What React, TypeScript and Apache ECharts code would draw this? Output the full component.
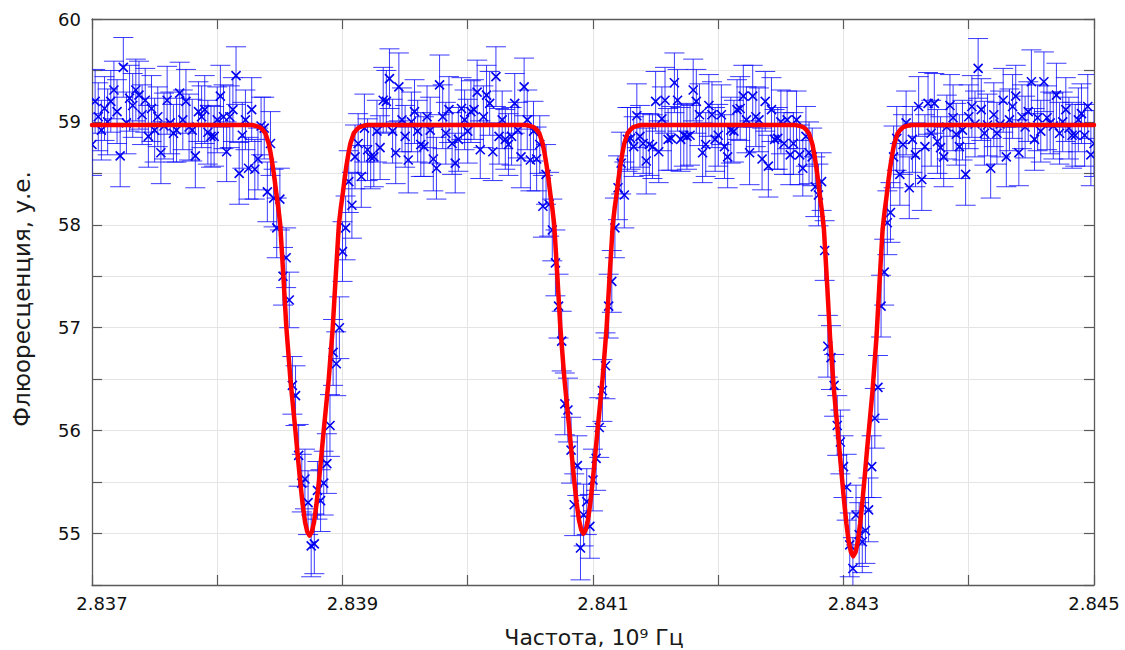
import React, { useEffect, useRef } from "react";
import * as echarts from "echarts";

// Frequency sampling of the measured points (GHz)
const X_START = 2.837;
const X_STEP = 0.000025;

// Measured fluorescence (a.u.), one value per sample
const signal = [
  58.78,59.20,59.05,58.92,59.13,59.00,59.20,59.31,59.10,58.67,
  59.53,58.99,59.23,59.16,59.31,59.26,59.07,59.21,58.86,59.13,
  58.92,59.05,58.70,58.96,59.21,58.99,58.89,58.92,59.28,59.02,
  59.20,58.95,58.92,58.67,59.10,59.05,59.12,58.90,58.86,58.86,
  59.02,59.25,59.05,58.71,59.05,59.12,59.45,58.50,58.87,59.02,
  58.55,59.12,58.54,58.64,58.96,58.94,58.32,58.79,58.26,57.97,
  58.25,57.50,57.68,57.27,56.44,56.34,55.76,55.49,55.53,55.30,
  54.88,54.90,55.42,55.32,55.49,55.68,56.05,56.76,56.65,57.00,
  57.74,57.97,58.42,58.19,58.66,58.79,58.47,58.94,58.73,58.66,
  58.66,58.91,58.75,59.21,59.20,59.42,58.91,58.70,59.34,59.02,
  58.86,58.63,59.00,59.10,58.91,58.78,58.76,59.05,58.92,58.64,
  58.55,59.36,59.05,58.89,59.12,58.79,58.60,58.83,59.13,59.02,
  58.91,59.10,59.12,59.29,58.73,59.05,59.26,59.18,58.71,59.44,
  58.86,59.02,58.83,58.78,58.86,59.18,58.92,58.66,59.34,59.02,
  58.63,58.91,58.64,58.78,58.18,58.49,58.20,57.95,57.63,57.21,
  56.87,56.26,56.20,55.81,55.28,55.66,54.86,55.18,55.31,55.07,
  55.52,55.73,56.03,56.39,56.63,57.21,57.45,57.97,58.36,58.60,
  58.29,58.83,58.84,58.76,59.06,58.86,58.79,58.62,58.78,58.76,
  59.20,58.71,59.03,59.21,58.83,58.84,59.38,59.21,58.83,58.87,
  58.86,58.87,59.31,59.20,59.07,58.70,58.78,59.16,59.07,58.83,
  58.87,59.07,58.76,58.66,58.92,58.91,59.12,59.13,59.25,59.02,
  58.70,59.25,59.05,59.02,58.64,59.20,58.57,59.12,58.83,58.84,
  59.00,58.79,59.02,58.68,58.79,59.02,58.68,58.55,58.86,58.70,
  58.66,58.37,58.29,58.42,57.75,56.82,56.71,56.44,56.05,55.89,
  55.65,55.45,54.89,54.66,55.18,54.99,54.92,55.03,55.23,55.65,
  56.12,56.42,57.21,57.54,58.02,58.12,58.66,58.84,58.49,58.78,
  58.99,58.36,58.83,58.68,59.15,58.44,58.76,59.18,58.89,59.18,
  58.81,58.75,58.66,58.95,59.16,59.04,58.88,58.76,58.92,58.49,
  59.05,59.15,58.98,59.52,59.12,58.89,58.97,58.55,59.07,58.89,
  58.98,59.21,58.66,59.02,59.15,59.25,58.70,59.05,58.95,59.10,
  59.39,58.83,59.04,58.91,59.39,59.04,58.99,58.96,59.26,58.89,
  59.00,59.12,58.94,58.87,58.87,59.02,59.08,58.87,59.15,58.68,
  58.79,
];

// Half-length of each error bar (a.u.)
const errors = [
  0.30,0.31,0.33,0.29,0.31,0.32,0.30,0.28,0.31,0.30,0.29,0.30,0.32,0.31,0.30,0.33,0.29,0.31,0.30,0.32,
  0.31,0.29,0.30,0.32,0.33,0.30,0.28,0.31,0.30,0.29,0.31,0.32,0.30,0.31,0.29,0.30,0.33,0.31,0.30,0.29,
  0.32,0.30,0.31,0.29,0.30,0.31,0.28,0.30,0.32,0.29,0.30,0.31,0.29,0.30,0.28,0.30,0.29,0.31,0.28,0.29,
  0.30,0.28,0.29,0.27,0.28,0.29,0.30,0.28,0.29,0.31,0.30,0.29,0.28,0.30,0.31,0.29,0.30,0.32,0.31,0.30,
  0.29,0.31,0.30,0.32,0.31,0.29,0.30,0.33,0.30,0.31,0.29,0.30,0.31,0.32,0.30,0.29,0.31,0.30,0.33,0.31,
  0.30,0.32,0.29,0.31,0.30,0.31,0.29,0.30,0.32,0.31,0.30,0.29,0.31,0.30,0.32,0.30,0.29,0.31,0.30,0.29,
  0.31,0.30,0.29,0.31,0.28,0.30,0.29,0.31,0.28,0.29,0.27,0.28,0.29,0.30,0.28,0.29,0.27,0.30,0.28,0.29,
  0.30,0.29,0.31,0.28,0.30,0.29,0.31,0.30,0.32,0.31,0.29,0.30,0.31,0.32,0.30,0.29,0.31,0.30,0.32,0.31,
  0.30,0.31,0.29,0.30,0.32,0.31,0.30,0.29,0.31,0.30,0.32,0.31,0.30,0.29,0.31,0.30,0.29,0.32,0.30,0.31,
  0.29,0.30,0.31,0.32,0.30,0.31,0.29,0.30,0.31,0.30,0.32,0.29,0.30,0.31,0.30,0.29,0.31,0.30,0.32,0.31,
  0.30,0.29,0.31,0.30,0.32,0.30,0.29,0.31,0.30,0.32,0.31,0.30,0.29,0.31,0.30,0.29,0.30,0.31,0.29,0.30,
  0.31,0.30,0.28,0.29,0.30,0.28,0.29,0.27,0.29,0.30,0.28,0.29,0.30,0.28,0.29,0.30,0.31,0.30,0.29,0.31,
  0.30,0.32,0.31,0.30,0.29,0.31,0.30,0.32,0.31,0.30,0.29,0.31,0.30,0.32,0.31,0.29,0.30,0.31,0.30,0.29,
  0.31,0.30,0.32,0.31,0.29,0.30,0.31,0.30,0.32,0.29,0.31,0.30,0.29,0.31,0.30,0.32,0.30,0.31,0.29,0.30,
  0.31,0.30,0.32,0.29,0.30,0.31,0.30,0.29,0.31,0.30,0.32,0.31,0.29,0.30,0.31,0.30,0.32,0.31,0.30,0.29,
  0.31,0.30,0.32,0.30,0.29,0.31,0.30,0.32,0.31,0.30,0.29,0.31,0.30,0.32,0.30,0.31,0.29,0.30,0.31,0.30,
  0.32,
];

// Fitted curve (red): plateau level, dip centres, dip minima
const fitBaseline = 58.97;
const dipCenters = [2.838737, 2.840924, 2.843078];
const dipMinima = [54.98, 55.0, 54.78];
// Dip shape: distance from centre (GHz) -> fraction of depth recovered
const dipOffsets = [0, 0.000018, 0.000036, 0.000055, 0.000074, 0.000093, 0.000113, 0.000133, 0.000153, 0.000185, 0.000209, 0.000234, 0.000249, 0.000264, 0.000279, 0.000294, 0.000310, 0.000326, 0.000353, 0.000376, 0.000399, 0.000430, 0.000463];
const dipFractions = [0, 0.009, 0.033, 0.076, 0.13, 0.19, 0.256, 0.318, 0.381, 0.506, 0.632, 0.757, 0.797, 0.83, 0.867, 0.9, 0.93, 0.955, 0.98, 0.989, 0.995, 0.998, 1];

const X_MIN = 2.837;
const X_MAX = 2.845;
const Y_MIN = 54.5;
const Y_MAX = 60;

const FONT = "DejaVu Sans";

export default function App() {
  const ref = useRef<HTMLDivElement>(null);

  useEffect(() => {
    if (!ref.current) return;
    const chart = echarts.init(ref.current, null, { renderer: "svg" });

    const points = signal.map((v, i) => [X_START + i * X_STEP, v, errors[i] ?? 0.3]);

    const fit: number[][] = [[X_MIN, fitBaseline]];
    dipCenters.forEach((c, d) => {
      const depth = fitBaseline - dipMinima[d];
      for (let k = dipOffsets.length - 1; k > 0; k--) {
        fit.push([c - dipOffsets[k], dipMinima[d] + depth * dipFractions[k]]);
      }
      for (let k = 0; k < dipOffsets.length; k++) {
        fit.push([c + dipOffsets[k], dipMinima[d] + depth * dipFractions[k]]);
      }
    });
    fit.push([X_MAX, fitBaseline]);

    const axisGray = "#5a5a5a";

    const isMajorX = (v: number) => {
      const r = (v - X_MIN) / 0.002;
      return Math.abs(r - Math.round(r)) < 1e-4;
    };

    chart.setOption({
      animation: false,
      backgroundColor: "#ffffff",
      grid: { left: 92, right: 31, top: 19, bottom: 65, containLabel: false },
      xAxis: [
        {
          type: "value",
          min: X_MIN,
          max: X_MAX,
          interval: 0.001,
          position: "bottom",
          axisLine: { show: true, onZero: false, lineStyle: { color: axisGray, width: 1.3 } },
          axisTick: { show: true, inside: true, length: 10, lineStyle: { color: axisGray, width: 1.2 } },
          splitLine: { show: true, lineStyle: { color: "#e4e4e4", width: 1 } },
          axisLabel: {
            show: true,
            margin: 9,
            color: "#111",
            fontFamily: FONT,
            fontSize: 18,
            formatter: (v: number) => {
              if (!isMajorX(v)) return "";
              const s = v.toFixed(3);
              return Math.abs(v - X_MAX) < 1e-6 ? `{b|${s}}` : `{a|${s}}`;
            },
            rich: {
              a: { fontFamily: FONT, fontSize: 18, color: "#111", padding: [0, 0, 0, 20] },
              b: { fontFamily: FONT, fontSize: 18, color: "#111", padding: [0, 0, 0, 0] },
            },
          },
        },
        {
          type: "value",
          min: X_MIN,
          max: X_MAX,
          interval: 0.001,
          position: "top",
          axisLine: { show: true, onZero: false, lineStyle: { color: axisGray, width: 1.3 } },
          axisTick: { show: true, inside: true, length: 10, lineStyle: { color: axisGray, width: 1.2 } },
          splitLine: { show: false },
          axisLabel: { show: false },
        },
      ],
      yAxis: [
        {
          type: "value",
          min: Y_MIN,
          max: Y_MAX,
          interval: 0.5,
          position: "left",
          axisLine: { show: true, onZero: false, lineStyle: { color: axisGray, width: 1.3 } },
          axisTick: { show: true, inside: true, length: 10, lineStyle: { color: axisGray, width: 1.2 } },
          splitLine: { show: true, lineStyle: { color: "#e4e4e4", width: 1 } },
          axisLabel: {
            show: true,
            margin: 11,
            color: "#111",
            fontFamily: FONT,
            fontSize: 18,
            formatter: (v: number) => (Math.abs(v - Math.round(v)) < 1e-6 ? String(Math.round(v)) : ""),
          },
        },
        {
          type: "value",
          min: Y_MIN,
          max: Y_MAX,
          interval: 0.5,
          position: "right",
          axisLine: { show: true, onZero: false, lineStyle: { color: axisGray, width: 1.3 } },
          axisTick: { show: true, inside: true, length: 10, lineStyle: { color: axisGray, width: 1.2 } },
          splitLine: { show: false },
          axisLabel: { show: false },
        },
      ],
      graphic: [
        {
          type: "text",
          x: 22,
          y: 299,
          rotation: Math.PI / 2,
          style: {
            text: "Флюоресценция, у.е.",
            fontFamily: FONT,
            fontSize: 23,
            fill: "#1a1a1a",
            align: "center",
            verticalAlign: "middle",
          },
        },
        {
          type: "text",
          x: 594,
          y: 637,
          style: {
            text: "Частота, 10⁹ Гц",
            fontFamily: FONT,
            fontSize: 22,
            fill: "#1a1a1a",
            align: "center",
            verticalAlign: "middle",
          },
        },
      ],
      series: [
        {
          type: "custom",
          xAxisIndex: 0,
          yAxisIndex: 0,
          clip: true,
          z: 2,
          data: points,
          renderItem: (params: any, api: any) => {
            const x = api.value(0);
            const y = api.value(1);
            const e = api.value(2);
            const p = api.coord([x, y]);
            const top = api.coord([x, y + e]);
            const bot = api.coord([x, y - e]);
            const cw = 10;
            const m = 4.5;
            const bar = { stroke: "rgba(10,10,255,0.8)", lineWidth: 1 };
            const mk = { stroke: "#0000f0", lineWidth: 1.6 };
            return {
              type: "group",
              children: [
                { type: "line", shape: { x1: p[0], y1: top[1], x2: p[0], y2: bot[1] }, style: bar },
                { type: "line", shape: { x1: p[0] - cw, y1: top[1], x2: p[0] + cw, y2: top[1] }, style: bar },
                { type: "line", shape: { x1: p[0] - cw, y1: bot[1], x2: p[0] + cw, y2: bot[1] }, style: bar },
                { type: "line", shape: { x1: p[0] - m, y1: p[1] - m, x2: p[0] + m, y2: p[1] + m }, style: mk },
                { type: "line", shape: { x1: p[0] - m, y1: p[1] + m, x2: p[0] + m, y2: p[1] - m }, style: mk },
              ],
            };
          },
        },
        {
          type: "line",
          xAxisIndex: 0,
          yAxisIndex: 0,
          data: fit,
          symbol: "none",
          smooth: false,
          z: 5,
          lineStyle: { color: "#ff0000", width: 4.5, join: "round", cap: "round" },
        },
      ],
    });

    return () => chart.dispose();
  }, []);

  return (
    <div
      ref={ref}
      style={{ position: "fixed", left: 0, top: 0, width: 1125, height: 650, background: "#fff" }}
    />
  );
}
